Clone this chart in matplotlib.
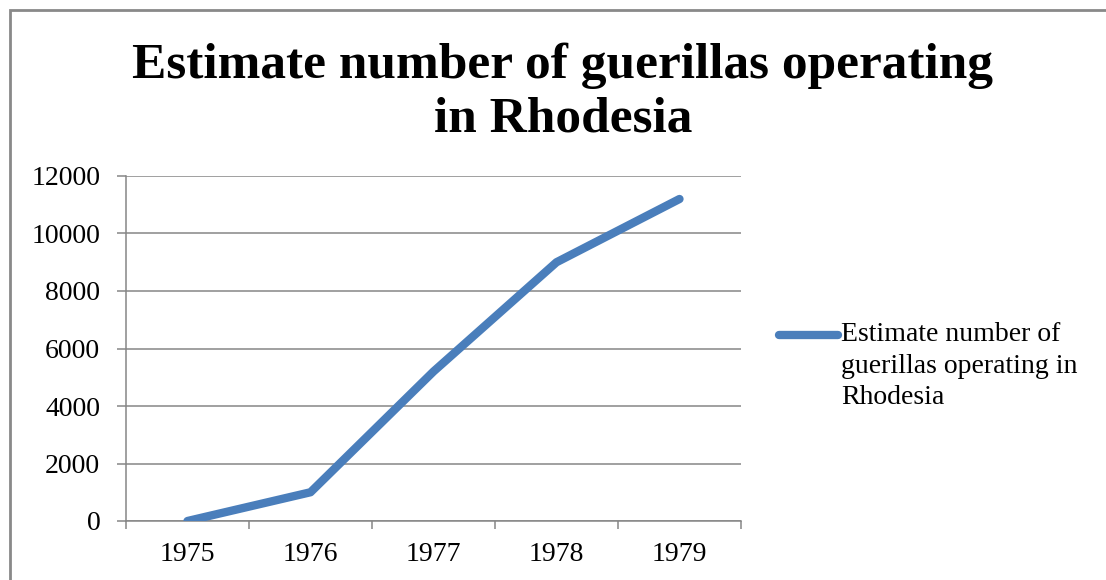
import matplotlib.pyplot as plt
from matplotlib.lines import Line2D
from matplotlib.patches import Rectangle

# Data
years = ["1975", "1976", "1977", "1978", "1979"]
guerillas = [0, 1000, 5200, 9000, 11200]
series_name = "Estimate number of\nguerillas operating in\nRhodesia"
title_lines = ["Estimate number of guerillas operating", "in Rhodesia"]
y_ticks = [0, 2000, 4000, 6000, 8000, 10000, 12000]

plt.rcParams["font.family"] = ["Liberation Serif", "DejaVu Serif"]

W, H = 1106, 580
fig = plt.figure(figsize=(W / 100, H / 100), dpi=100)
ax = fig.add_axes([126 / W, 59 / H, 615 / W, 345 / H])

grey = "#868686"
blue = "#4A7EBB"

# Line series
x = list(range(len(years)))
ax.plot(x, guerillas, color=blue, linewidth=6, solid_capstyle="round",
        solid_joinstyle="round", zorder=3)

# Axes styling
ax.set_xlim(-0.5, len(years) - 0.5)
ax.set_ylim(0, 12000)
ax.set_yticks(y_ticks)
ax.set_yticklabels([str(v) for v in y_ticks])
ax.yaxis.grid(True, color=grey, linewidth=1.1)
ax.set_axisbelow(True)

# Category ticks sit between the labels
ax.set_xticks([i - 0.5 for i in range(len(years) + 1)])
ax.set_xticklabels([])
ax.set_xticks(x, minor=True)
ax.set_xticklabels(years, minor=True)
ax.tick_params(axis="x", which="major", length=5.8, width=1.1, color=grey)
ax.tick_params(axis="x", which="minor", length=0, pad=15, labelsize=20)
ax.tick_params(axis="y", length=6.5, width=1.1, color=grey, pad=12, labelsize=20)

for side in ["top", "right"]:
    ax.spines[side].set_visible(False)
for side in ["left", "bottom"]:
    ax.spines[side].set_color(grey)
    ax.spines[side].set_linewidth(1.1)

# Title, two lines
fig.text(563 / W, 1 - 78 / H, title_lines[0], ha="center", va="baseline",
         fontsize=37, fontweight="bold")
fig.text(563 / W, 1 - 132 / H, title_lines[1], ha="center", va="baseline",
         fontsize=37, fontweight="bold")

# Legend: line sample next to the first text line
fig.add_artist(Line2D([779 / W, 838 / W], [1 - 335 / H, 1 - 335 / H],
                      transform=fig.transFigure, color=blue, linewidth=6,
                      solid_capstyle="round"))
fig.text(841 / W, 1 - 322 / H, series_name, ha="left", va="top",
         fontsize=20, linespacing=1.35)

# Chart frame
fig.patches.append(Rectangle((10 / W, -0.05), 1.2, 1 - 10 / H + 0.05,
                             transform=fig.transFigure, fill=False,
                             edgecolor="#898989", linewidth=2))

fig.savefig("out.png", dpi=100)
